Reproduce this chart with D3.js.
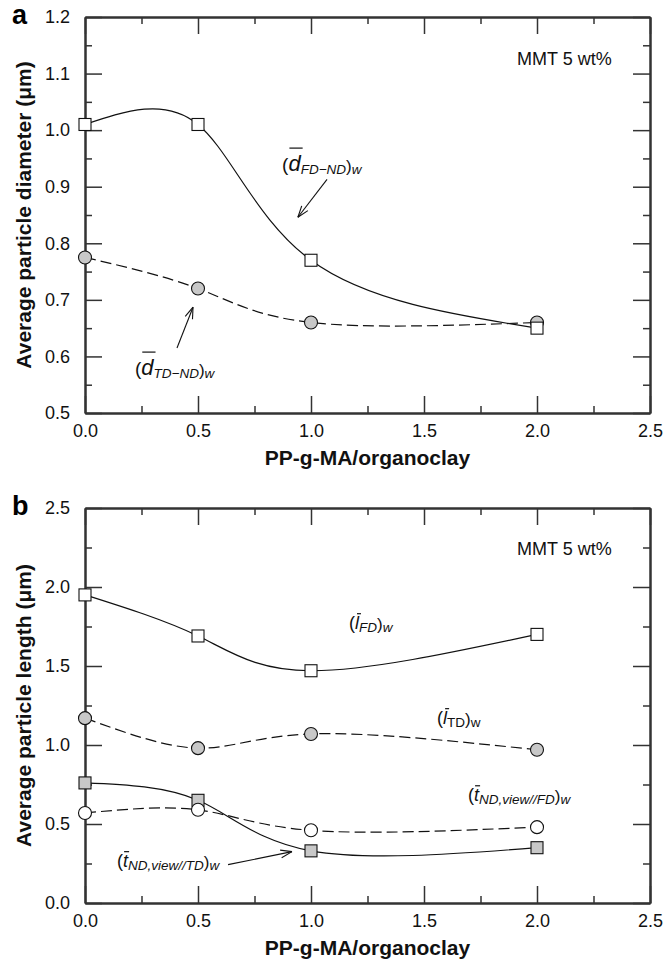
<!DOCTYPE html>
<html>
<head>
<meta charset="utf-8">
<script src="https://cdn.jsdelivr.net/npm/d3@7/dist/d3.min.js"></script>
<style>
  html, body { margin: 0; padding: 0; background: #fff; }
  svg { display: block; font-family: "Liberation Sans", Arial, Helvetica, sans-serif; }
</style>
</head>
<body>
<svg id="chart" width="664" height="960"></svg>
<script>
// PP-g-MA/organoclay ratio (x) for every measured sample
const loadings = [0, 0.5, 1.0, 2.0];

// Panel a: average particle diameter (µm)
const dFdNd = [1.01, 1.01, 0.77, 0.65];   // open squares, solid line
const dTdNd = [0.775, 0.72, 0.66, 0.66];  // grey circles, dashed line

// Panel b: average particle length (µm)
const lFd = [1.95, 1.69, 1.47, 1.70];        // open squares, solid
const lTd = [1.17, 0.98, 1.07, 0.97];        // grey circles, dashed
const tNdViewTd = [0.76, 0.65, 0.33, 0.35];  // grey squares, solid
const tNdViewFd = [0.57, 0.59, 0.46, 0.48];  // open circles, dashed

// Tick values
const xMajor = [0, 0.5, 1.0, 1.5, 2.0, 2.5];
const xMinor = [0.25, 0.75, 1.25, 1.75, 2.25];
const yMajorA = [0.5, 0.6, 0.7, 0.8, 0.9, 1.0, 1.1, 1.2];
const yMinorA = [0.55, 0.65, 0.75, 0.85, 0.95, 1.05, 1.15];
const yMajorB = [0, 0.5, 1.0, 1.5, 2.0, 2.5];
const yMinorB = [0.25, 0.75, 1.25, 1.75, 2.25];

const svg = d3.select("#chart");
const FONT = '"Liberation Sans", Arial, Helvetica, sans-serif';
const GREY = "#c8c8c8";
const AXIS = "#333";

function drawPanel(cfg) {
  const { top, bottom, left, right } = cfg.box;
  const x = d3.scaleLinear().domain([0, 2.5]).range([left, right]);
  const y = d3.scaleLinear().domain(cfg.yDomain).range([bottom, top]);
  const g = svg.append("g");

  const styleAxis = sel => {
    sel.select(".domain").attr("stroke", AXIS).attr("stroke-width", 2);
    sel.selectAll(".tick line").attr("stroke", AXIS).attr("stroke-width", 1.5);
    sel.selectAll(".tick text").attr("fill", "#111").attr("font-size", 18).attr("font-family", FONT);
  };

  // bottom axis with labels, inward ticks
  g.append("g").attr("transform", `translate(0,${bottom})`)
    .call(d3.axisBottom(x).tickValues(xMajor).tickFormat(d3.format(".1f")).tickSize(-17).tickSizeOuter(0).tickPadding(11))
    .call(styleAxis);
  g.append("g").attr("transform", `translate(0,${bottom})`)
    .call(d3.axisBottom(x).tickValues(xMinor).tickFormat("").tickSize(-7).tickSizeOuter(0))
    .call(styleAxis);
  // top axis
  g.append("g").attr("transform", `translate(0,${top})`)
    .call(d3.axisTop(x).tickValues(xMajor).tickFormat("").tickSize(-17).tickSizeOuter(0))
    .call(styleAxis);
  g.append("g").attr("transform", `translate(0,${top})`)
    .call(d3.axisTop(x).tickValues(xMinor).tickFormat("").tickSize(-7).tickSizeOuter(0))
    .call(styleAxis);
  // left axis with labels
  g.append("g").attr("transform", `translate(${left},0)`)
    .call(d3.axisLeft(y).tickValues(cfg.yMajor).tickFormat(d3.format(".1f")).tickSize(-17).tickSizeOuter(0).tickPadding(15))
    .call(styleAxis);
  g.append("g").attr("transform", `translate(${left},0)`)
    .call(d3.axisLeft(y).tickValues(cfg.yMinor).tickFormat("").tickSize(-7).tickSizeOuter(0))
    .call(styleAxis);
  // right axis
  g.append("g").attr("transform", `translate(${right},0)`)
    .call(d3.axisRight(y).tickValues(cfg.yMajor).tickFormat("").tickSize(-17).tickSizeOuter(0))
    .call(styleAxis);
  g.append("g").attr("transform", `translate(${right},0)`)
    .call(d3.axisRight(y).tickValues(cfg.yMinor).tickFormat("").tickSize(-7).tickSizeOuter(0))
    .call(styleAxis);

  // axis titles
  g.append("text")
    .attr("x", (left + right) / 2).attr("y", bottom + 52)
    .attr("text-anchor", "middle").attr("font-size", 21).attr("font-weight", "bold")
    .attr("font-family", FONT).attr("fill", "#111")
    .text("PP-g-MA/organoclay");
  g.append("text")
    .attr("transform", `translate(31,${(top + bottom) / 2}) rotate(-90)`)
    .attr("text-anchor", "middle").attr("font-size", 21).attr("font-weight", "bold")
    .attr("font-family", FONT).attr("fill", "#111")
    .text(cfg.yTitle);
  // panel letter
  g.append("text")
    .attr("x", 12).attr("y", top + 7)
    .attr("font-size", 27).attr("font-weight", "bold").attr("font-family", FONT).attr("fill", "#000")
    .text(cfg.letter);
  // composition note
  g.append("text")
    .attr("x", x(1.912)).attr("y", y(cfg.noteY))
    .attr("font-size", 18).attr("font-family", FONT).attr("fill", "#111")
    .text("MMT 5 wt%");

  // smooth curves: natural cubic spline through the measured points
  const line = d3.line().x(d => x(d[0])).y(d => y(d[1])).curve(d3.curveNatural);
  cfg.series.forEach(s => {
    g.append("path")
      .datum(loadings.map((v, i) => [v, s.values[i]]))
      .attr("d", line)
      .attr("fill", "none").attr("stroke", "#111").attr("stroke-width", 1.2)
      .attr("stroke-dasharray", s.dashed ? "11,5" : null);
  });
  // markers
  cfg.series.forEach(s => {
    const pts = loadings.map((v, i) => [v, s.values[i]]);
    if (s.shape === "square") {
      g.selectAll(null).data(pts).enter().append("rect")
        .attr("x", d => x(d[0]) - 6).attr("y", d => y(d[1]) - 6)
        .attr("width", 12).attr("height", 12)
        .attr("fill", s.fill).attr("stroke", "#111").attr("stroke-width", 1.1);
    } else {
      g.selectAll(null).data(pts).enter().append("circle")
        .attr("cx", d => x(d[0])).attr("cy", d => y(d[1])).attr("r", 6.5)
        .attr("fill", s.fill).attr("stroke", "#111").attr("stroke-width", 1.1);
    }
  });

  // annotation labels and arrows
  cfg.labels.forEach(L => richLabel(g, x(L.at[0]), y(L.at[1]), L.parts));
  cfg.arrows.forEach(A => arrow(g, x(A.from[0]), y(A.from[1]), x(A.to[0]), y(A.to[1])));
}

// Text built from parts with individual size, style and baseline shift; one part may carry an overbar
function richLabel(g, px, py, parts) {
  const t = g.append("text").attr("x", px).attr("y", py)
    .attr("font-family", FONT).attr("fill", "#111");
  let prev = 0, idx = 0, barInfo = null;
  parts.forEach(p => {
    const shift = p.shift || 0;
    t.append("tspan")
      .attr("dy", shift - prev)
      .attr("font-size", p.size)
      .attr("font-style", p.italic ? "italic" : "normal")
      .text(p.t);
    if (p.bar) barInfo = { idx, part: p };
    prev = shift;
    idx += p.t.length;
  });
  if (barInfo) {
    const e = t.node().getExtentOfChar(barInfo.idx);
    const p = barInfo.part;
    const x0 = e.x + (p.barX0 || 0), x1 = e.x + e.width + (p.barX1 || 0);
    const yb = e.y + (p.barY || 0);
    g.append("line").attr("x1", x0).attr("x2", x1).attr("y1", yb).attr("y2", yb)
      .attr("stroke", "#111").attr("stroke-width", 1.2);
  }
}

// Straight arrow with an open V head
function arrow(g, x0, y0, x1, y1) {
  g.append("line").attr("x1", x0).attr("y1", y0).attr("x2", x1).attr("y2", y1)
    .attr("stroke", "#111").attr("stroke-width", 1.1);
  const ang = Math.atan2(y0 - y1, x0 - x1);
  const len = 12, spread = 0.33;
  [ang - spread, ang + spread].forEach(a => {
    g.append("line").attr("x1", x1).attr("y1", y1)
      .attr("x2", x1 + len * Math.cos(a)).attr("y2", y1 + len * Math.sin(a))
      .attr("stroke", "#111").attr("stroke-width", 1.1);
  });
}

drawPanel({
  letter: "a",
  box: { top: 17, bottom: 413, left: 85, right: 650 },
  yDomain: [0.5, 1.2], yMajor: yMajorA, yMinor: yMinorA,
  yTitle: "Average particle diameter (\u03bcm)",
  noteY: 1.115,
  series: [
    { values: dTdNd, shape: "circle", fill: GREY, dashed: true },
    { values: dFdNd, shape: "square", fill: "#fff", dashed: false }
  ],
  labels: [
    { at: [0.872, 0.9276], parts: [
      { t: "(", size: 19 },
      { t: "d", size: 22, italic: true, bar: true, barY: -3, barX0: 1, barX1: 2 },
      { t: "FD\u2212ND", size: 13.5, italic: true, shift: 3 },
      { t: ")", size: 17, shift: 1 },
      { t: "w", size: 13.5, italic: true, shift: 3 } ] },
    { at: [0.221, 0.567], parts: [
      { t: "(", size: 19 },
      { t: "d", size: 22, italic: true, bar: true, barY: -3, barX0: 1, barX1: 2 },
      { t: "TD\u2212ND", size: 13.5, italic: true, shift: 3 },
      { t: ")", size: 17, shift: 1 },
      { t: "w", size: 13.5, italic: true, shift: 3 } ] }
  ],
  arrows: [
    { from: [1.071, 0.913], to: [0.942, 0.846] },
    { from: [0.407, 0.615], to: [0.478, 0.687] }
  ]
});

drawPanel({
  letter: "b",
  box: { top: 508, bottom: 903, left: 85, right: 650 },
  yDomain: [0, 2.5], yMajor: yMajorB, yMinor: yMinorB,
  yTitle: "Average particle length (\u03bcm)",
  noteY: 2.204,
  series: [
    { values: lFd, shape: "square", fill: "#fff", dashed: false },
    { values: lTd, shape: "circle", fill: GREY, dashed: true },
    { values: tNdViewTd, shape: "square", fill: GREY, dashed: false },
    { values: tNdViewFd, shape: "circle", fill: "#fff", dashed: true }
  ],
  labels: [
    { at: [1.168, 1.736], parts: [
      { t: "(", size: 18 },
      { t: "l", size: 18, italic: true, bar: true, barY: 1, barX0: 2, barX1: 2 },
      { t: "FD", size: 13.5, italic: true, shift: 3 },
      { t: ")", size: 17, shift: 1 },
      { t: "w", size: 13.5, italic: true, shift: 3 } ] },
    { at: [1.558, 1.135], parts: [
      { t: "(", size: 18 },
      { t: "l", size: 18, italic: true, bar: true, barY: 1, barX0: 2, barX1: 2 },
      { t: "TD", size: 13.5, shift: 3 },
      { t: ")", size: 17, shift: 1 },
      { t: "w", size: 13.5, shift: 3 } ] },
    { at: [1.695, 0.647], parts: [
      { t: "(", size: 18 },
      { t: "t", size: 18, italic: true, bar: true, barY: 1, barX0: 1, barX1: 1 },
      { t: "ND,view//FD", size: 13.5, italic: true, shift: 3 },
      { t: ")", size: 17, shift: 1 },
      { t: "w", size: 13.5, italic: true, shift: 3 } ] },
    { at: [0.142, 0.23], parts: [
      { t: "(", size: 18 },
      { t: "t", size: 18, italic: true, bar: true, barY: 1, barX0: 1, barX1: 1 },
      { t: "ND,view//TD", size: 13.5, italic: true, shift: 3 },
      { t: ")", size: 17, shift: 1 },
      { t: "w", size: 13.5, italic: true, shift: 3 } ] }
  ],
  arrows: [
    { from: [0.633, 0.243], to: [0.916, 0.325] }
  ]
});
</script>
</body>
</html>
